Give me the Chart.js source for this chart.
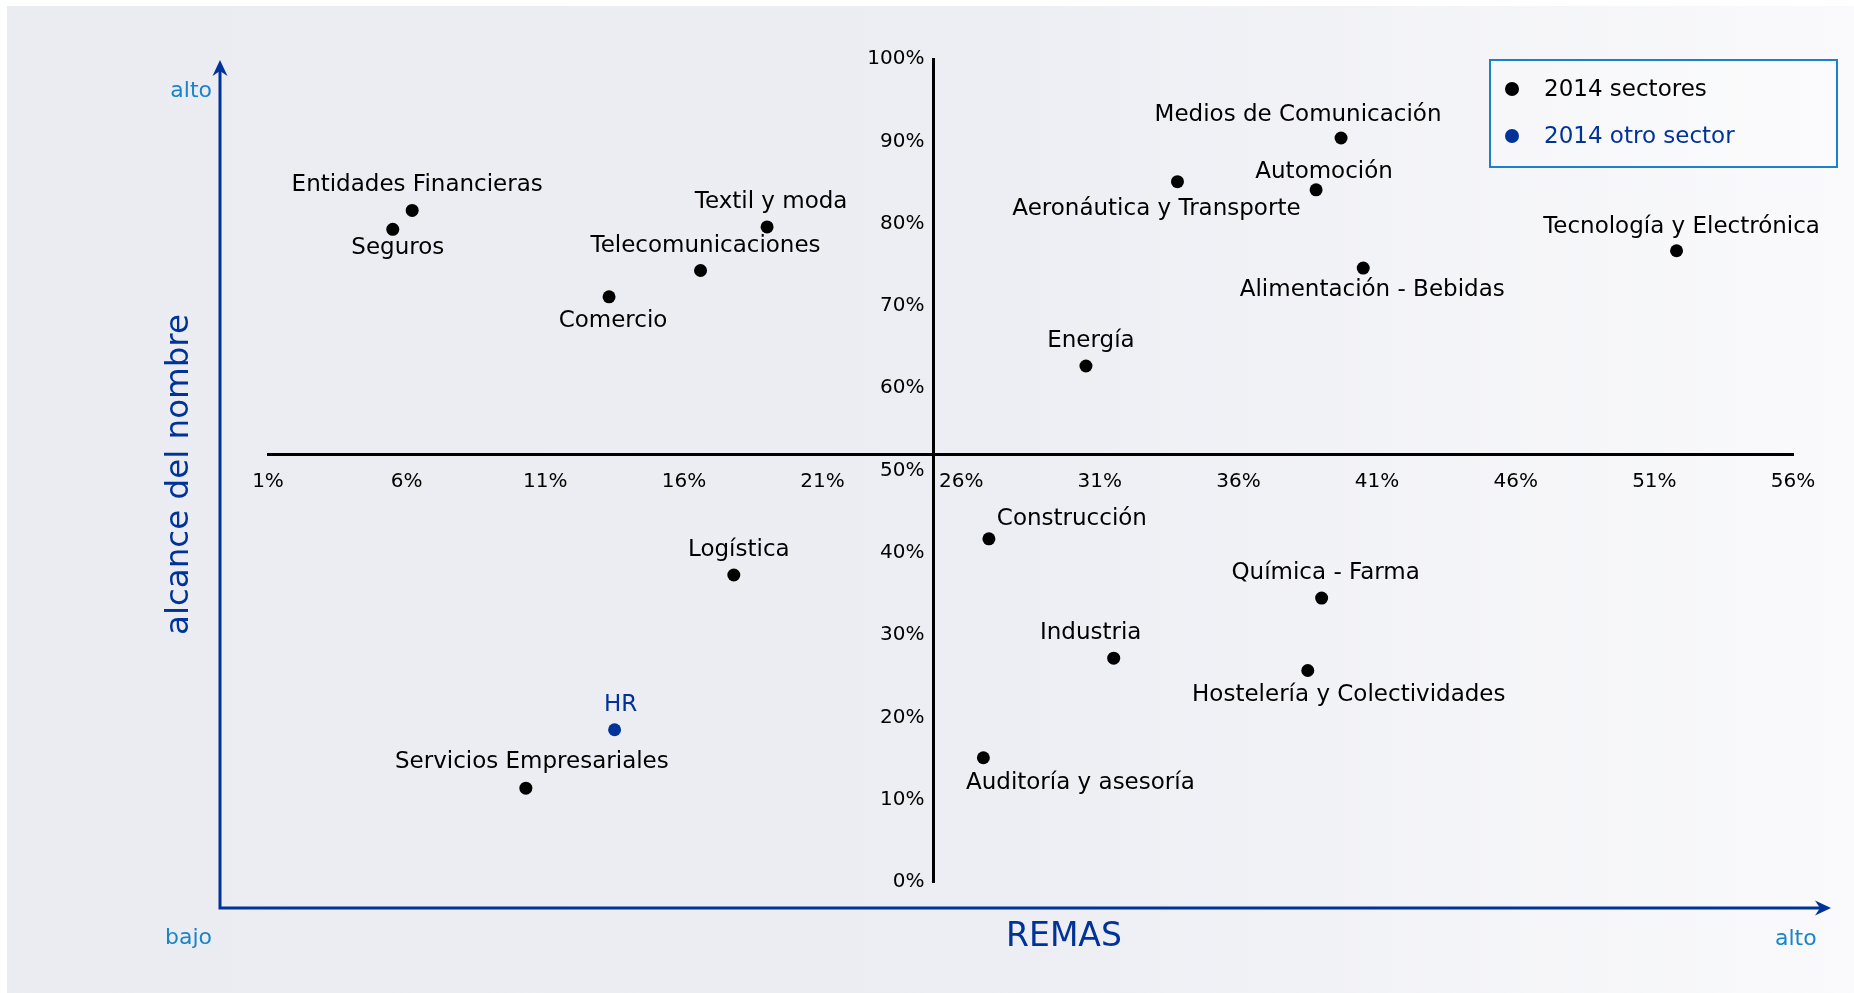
<!DOCTYPE html>
<html lang="es">
<head>
<meta charset="utf-8">
<title>REMAS vs alcance del nombre</title>
<script src="https://cdn.jsdelivr.net/npm/chart.js@4.4.1/dist/chart.umd.min.js"></script>
<style>
  html, body { margin: 0; padding: 0; background: #fff; overflow: hidden; }
  #wrap { width: 1854px; height: 993px; }
</style>
</head>
<body>
<div id="wrap"><canvas id="grafico" width="1854" height="993"></canvas></div>
<script>
// datos: x = REMAS (%), y = alcance del nombre (%)
const sectores = [
  'Entidades Financieras', 'Seguros', 'Textil y moda', 'Telecomunicaciones', 'Comercio',
  'Medios de Comunicación', 'Aeronáutica y Transporte', 'Automoción', 'Tecnología y Electrónica',
  'Alimentación - Bebidas', 'Energía', 'Construcción', 'Logística', 'Química - Farma',
  'Industria', 'Hostelería y Colectividades', 'Servicios Empresariales', 'Auditoría y asesoría'
];
const remasSectores = [6.2, 5.5, 19.0, 16.6, 13.3, 39.7, 33.8, 38.8, 51.8, 40.5, 30.5, 27.0, 17.8, 39.0, 31.5, 38.5, 10.3, 26.8];
const alcanceSectores = [81.6, 79.3, 79.6, 74.3, 71.1, 90.4, 85.1, 84.1, 76.7, 74.6, 62.7, 41.7, 37.3, 34.5, 27.2, 25.7, 11.4, 15.1];

const otroSector = ['HR'];
const remasOtro = [13.5];
const alcanceOtro = [18.5];

const leyenda = ['2014 sectores', '2014 otro sector'];

// ejes
const xMin = 1, xMax = 56, xPaso = 5;
const yMin = 0, yMax = 100, yPaso = 10;
const cruceX = 25;   // el eje vertical corta en este REMAS
const cruceY = 52;   // el eje horizontal corta en este alcance

// donde va cada etiqueta respecto a su punto (px, centro del texto)
const desplSectores = [
  [5, -27], [5, 17], [4, -27], [5, -27], [4, 22],
  [-43, -25], [-21, 25], [8, -20], [5, -26],
  [9, 20], [5, -27], [83, -22], [5, -27], [4, -27],
  [-23, -27], [41, 23], [6, -28], [97, 23]
];
const desplOtro = [[6, -27]];

const azulOscuro = '#003399';
const azulClaro = '#1a84cb';
const bordeLeyenda = '#1c80cf';

Chart.defaults.font.family = '"DejaVu Sans", Verdana, sans-serif';

const fondo = {
  id: 'fondo',
  beforeDraw(chart) {
    const ctx = chart.ctx;
    const w = chart.width, h = chart.height;
    ctx.save();
    ctx.fillStyle = '#fff';
    ctx.fillRect(0, 0, w, h);
    const g = ctx.createLinearGradient(7, 0, w, 0);
    g.addColorStop(0, '#ebecf1');
    g.addColorStop(0.55, '#edeef3');
    g.addColorStop(1, '#fafafc');
    ctx.fillStyle = g;
    ctx.fillRect(7, 6, w - 7, h - 6);
    ctx.restore();
  }
};

// con position {x: valor} chart.js pega las etiquetas del eje y a la linea,
// las separo un poco a la izquierda
const separarEtiquetasY = {
  id: 'separarEtiquetasY',
  beforeDraw(chart) {
    const items = chart.scales.y.getLabelItems();
    if (items._separadas) return;
    items.forEach(it => { it.options.translation[0] -= 9; });
    items._separadas = true;
  }
};

function punta(ctx, x, y, dir) {
  ctx.beginPath();
  if (dir === 'arriba') {
    ctx.moveTo(x, y);
    ctx.lineTo(x - 7.5, y + 16);
    ctx.lineTo(x, y + 11);
    ctx.lineTo(x + 7.5, y + 16);
  } else {
    ctx.moveTo(x, y);
    ctx.lineTo(x - 16, y - 7.5);
    ctx.lineTo(x - 11, y);
    ctx.lineTo(x - 16, y + 7.5);
  }
  ctx.closePath();
  ctx.fill();
}

// flechas exteriores, titulos y alto / bajo
const decorado = {
  id: 'decorado',
  beforeDatasetsDraw(chart) {
    const ctx = chart.ctx;
    const a = chart.chartArea;
    const ox = a.left - 48;
    const oy = a.bottom + 26;
    ctx.save();
    ctx.strokeStyle = azulOscuro;
    ctx.fillStyle = azulOscuro;
    ctx.lineWidth = 3;
    ctx.lineJoin = 'miter';
    ctx.beginPath();
    ctx.moveTo(ox, a.top + 12);
    ctx.lineTo(ox, oy);
    ctx.lineTo(a.right + 28, oy);
    ctx.stroke();
    punta(ctx, ox, a.top + 1, 'arriba');
    punta(ctx, a.right + 38, oy, 'derecha');

    ctx.fillStyle = azulClaro;
    ctx.font = '22px "DejaVu Sans"';
    ctx.textBaseline = 'alphabetic';
    ctx.textAlign = 'right';
    ctx.fillText('alto', ox - 8, a.top + 38);
    ctx.fillText('bajo', ox - 8, oy + 36);
    ctx.textAlign = 'left';
    ctx.fillText('alto', a.right - 18, oy + 37);

    ctx.fillStyle = azulOscuro;
    ctx.font = '33px "DejaVu Sans"';
    ctx.textAlign = 'center';
    ctx.textBaseline = 'middle';
    ctx.fillText('REMAS', a.left + 796, oy + 29);

    ctx.translate(ox - 40, (a.top + a.bottom) / 2 + 4);
    ctx.rotate(-Math.PI / 2);
    ctx.font = '32.5px "DejaVu Sans"';
    ctx.fillText('alcance del nombre', 0, 0);
    ctx.restore();
  }
};

const etiquetas = [sectores, otroSector];
const desplazamientos = [desplSectores, desplOtro];
const coloresTexto = ['#000', azulOscuro];

const nombresPuntos = {
  id: 'nombresPuntos',
  afterDatasetsDraw(chart) {
    const ctx = chart.ctx;
    ctx.save();
    ctx.font = '23px "DejaVu Sans"';
    ctx.textAlign = 'center';
    ctx.textBaseline = 'alphabetic';
    chart.data.datasets.forEach((ds, d) => {
      ctx.fillStyle = coloresTexto[d];
      chart.getDatasetMeta(d).data.forEach((pt, i) => {
        const off = desplazamientos[d][i];
        ctx.fillText(etiquetas[d][i], pt.x + off[0], pt.y + off[1] + 8);
      });
    });
    ctx.restore();
  }
};

const cajaLeyenda = {
  id: 'cajaLeyenda',
  afterDraw(chart) {
    const ctx = chart.ctx;
    const a = chart.chartArea;
    const bx = a.right - 303, by = a.top + 1, bw = 347, bh = 107;
    ctx.save();
    ctx.fillStyle = 'rgba(255,255,255,0.25)';
    ctx.fillRect(bx, by, bw, bh);
    ctx.strokeStyle = bordeLeyenda;
    ctx.lineWidth = 2;
    ctx.strokeRect(bx, by, bw, bh);
    ctx.font = '23px "DejaVu Sans"';
    ctx.textBaseline = 'middle';
    ctx.textAlign = 'left';
    chart.data.datasets.forEach((ds, d) => {
      const y = by + 29 + d * 47;
      ctx.fillStyle = ds.backgroundColor;
      ctx.beginPath();
      ctx.arc(bx + 22, y, 7, 0, Math.PI * 2);
      ctx.fill();
      ctx.fillStyle = coloresTexto[d];
      ctx.fillText(ds.label, bx + 54, y + 1);
    });
    ctx.restore();
  }
};

const ctx = document.getElementById('grafico').getContext('2d');
const grafico = new Chart(ctx, {
  type: 'scatter',
  data: {
    datasets: [{
      label: leyenda[0],
      data: remasSectores.map((v, i) => ({ x: v, y: alcanceSectores[i] })),
      backgroundColor: '#000',
      borderWidth: 0,
      pointRadius: 6.5,
      pointHoverRadius: 6.5
    }, {
      label: leyenda[1],
      data: remasOtro.map((v, i) => ({ x: v, y: alcanceOtro[i] })),
      backgroundColor: azulOscuro,
      borderWidth: 0,
      pointRadius: 6.5,
      pointHoverRadius: 6.5
    }]
  },
  options: {
    responsive: false,
    animation: false,
    layout: { padding: { left: 268, right: 61, top: 59, bottom: 111 } },
    plugins: { legend: { display: false }, tooltip: { enabled: false } },
    scales: {
      x: {
        type: 'linear',
        min: xMin, max: xMax,
        position: { y: cruceY },
        grid: { display: false, drawTicks: false },
        border: { display: true, color: '#000', width: 3 },
        ticks: {
          stepSize: xPaso, autoSkip: false, maxRotation: 0,
          color: '#000', font: { size: 20 }, padding: 16,
          callback: v => v + '%'
        }
      },
      y: {
        type: 'linear',
        min: yMin, max: yMax,
        position: { x: cruceX },
        grid: { display: false, drawTicks: false },
        border: { display: true, color: '#000', width: 3 },
        ticks: {
          stepSize: yPaso, autoSkip: false,
          color: '#000', font: { size: 20 },
          callback: v => v + '%'
        }
      }
    }
  },
  plugins: [fondo, separarEtiquetasY, decorado, nombresPuntos, cajaLeyenda]
});
</script>
</body>
</html>
